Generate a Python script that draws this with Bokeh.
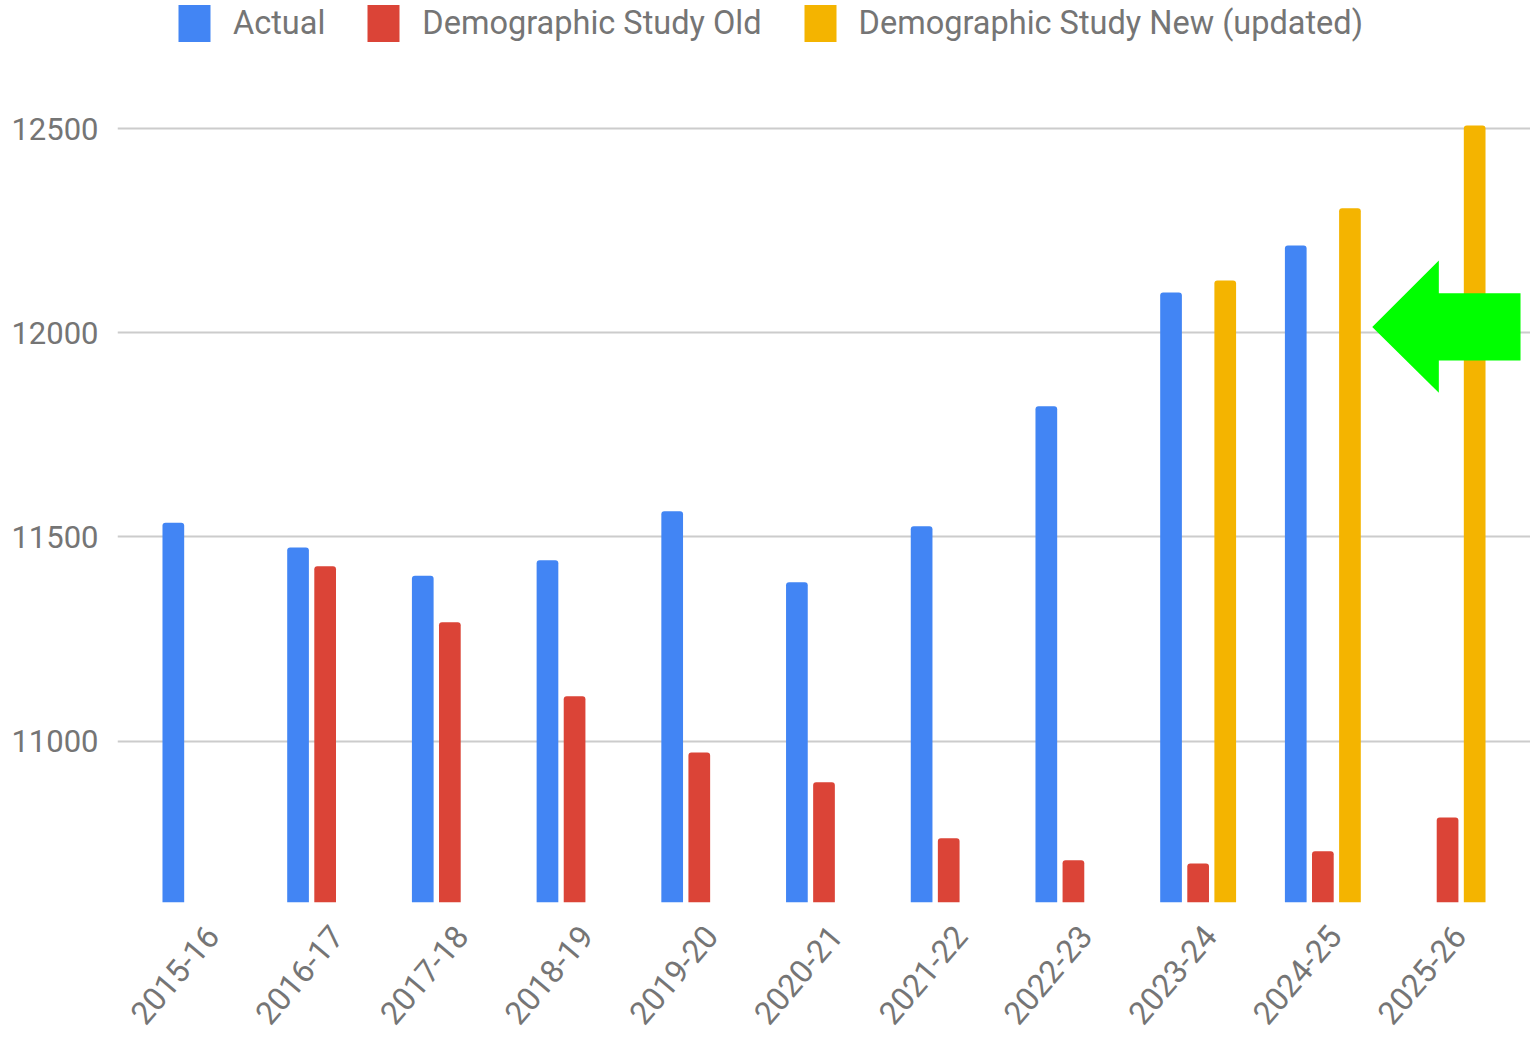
import math
from bokeh.plotting import figure
from bokeh.models import (ColumnDataSource, FactorRange, Range1d, FixedTicker,
                          Legend, LegendItem, PolyAnnotation, LabelSet)
from bokeh.core.properties import value
from bokeh.transform import dodge
from bokeh.embed import file_html
from bokeh.resources import INLINE

# ---------------- data ----------------
years = ["2015-16", "2016-17", "2017-18", "2018-19", "2019-20", "2020-21",
         "2021-22", "2022-23", "2023-24", "2024-25", "2025-26"]

actual_years = ["2015-16", "2016-17", "2017-18", "2018-19", "2019-20",
                "2020-21", "2021-22", "2022-23", "2023-24", "2024-25"]
actual = [11535, 11474, 11405, 11443, 11563, 11389, 11526, 11820, 12099, 12214]

old_years = ["2016-17", "2017-18", "2018-19", "2019-20", "2020-21",
             "2021-22", "2022-23", "2023-24", "2024-25", "2025-26"]
old = [11428, 11291, 11110, 10972, 10899, 10762, 10708, 10700, 10730, 10813]

new_years = ["2023-24", "2024-25", "2025-26"]
new = [12128, 12305, 12508]

y_ticks = [11000, 11500, 12000, 12500]
y_base = 10605            # baseline of the bars (bottom of the chart area)
y_min, y_max = 10274, 12814   # frame extends below the baseline to hold the labels

series_names = ["Actual", "Demographic Study Old", "Demographic Study New (updated)"]
colors = ["#4285F4", "#DB4437", "#F4B400"]

# annotation arrow (x in category units, y in data units)
arrow_x = [9.896, 10.430, 10.430, 11.085, 11.085, 10.430, 10.430]
arrow_y = [12014, 12177, 12097, 12097, 11932, 11932, 11853]

FONT = "Roboto"
TEXT = "#757575"

p = figure(x_range=FactorRange(factors=years, range_padding=0.03,
                               range_padding_units="percent"),
           y_range=Range1d(y_min, y_max),
           width=1530, height=1037, output_backend="svg",
           toolbar_location=None, min_border_left=117, min_border_right=0,
           min_border_top=0, min_border_bottom=0)
p.outline_line_color = None
p.background_fill_color = "white"

off = 0.2173
bw = 0.174
radius = (3, 3, 0, 0)

src_a = ColumnDataSource(dict(x=actual_years, top=actual))
src_o = ColumnDataSource(dict(x=old_years, top=old))
src_n = ColumnDataSource(dict(x=new_years, top=new))

r_a = p.vbar(x=dodge("x", -off, range=p.x_range), top="top", bottom=y_base,
             width=bw, source=src_a, fill_color=colors[0], line_color=None,
             border_radius=radius)
r_o = p.vbar(x=dodge("x", 0.0, range=p.x_range), top="top", bottom=y_base,
             width=bw, source=src_o, fill_color=colors[1], line_color=None,
             border_radius=radius)
r_n = p.vbar(x=dodge("x", off, range=p.x_range), top="top", bottom=y_base,
             width=bw, source=src_n, fill_color=colors[2], line_color=None,
             border_radius=radius)

# y axis
p.yaxis.ticker = FixedTicker(ticks=y_ticks)
p.yaxis.axis_line_color = None
p.yaxis.major_tick_line_color = None
p.yaxis.minor_tick_line_color = None
p.yaxis.major_tick_out = 0
p.yaxis.major_label_standoff = 19
p.yaxis.major_label_text_font = FONT
p.yaxis.major_label_text_font_size = "31px"
p.yaxis.major_label_text_color = TEXT

# x axis: category labels drawn as slanted text under each group
p.xaxis.visible = False
lbl_src = ColumnDataSource(dict(x=years, y=[y_base] * len(years)))
p.add_layout(LabelSet(x=dodge("x", 0.03, range=p.x_range), y="y",
                      text="x", source=lbl_src, y_offset=-21,
                      angle=0.87, text_align="right", text_baseline="top",
                      text_font=value(FONT), text_font_size=value("32px"),
                      text_color=TEXT))

p.xgrid.grid_line_color = None
p.ygrid.grid_line_color = "#cccccc"
p.ygrid.grid_line_width = 2

# arrow
p.add_layout(PolyAnnotation(xs=arrow_x, ys=arrow_y, fill_color="#00ff00",
                            fill_alpha=1.0, line_color=None))

legend = Legend(items=[LegendItem(label=series_names[0], renderers=[r_a]),
                       LegendItem(label=series_names[1], renderers=[r_o]),
                       LegendItem(label=series_names[2], renderers=[r_n])],
                orientation="horizontal", location=(57, 991),
                padding=0, margin=0, spacing=38,
                glyph_width=40, glyph_height=46, label_standoff=19,
                border_line_color=None, background_fill_alpha=0,
                label_text_font=FONT, label_text_font_size="32.5px",
                label_text_color=TEXT)
p.add_layout(legend)

open("out.html", "w").write(file_html(p, INLINE))
